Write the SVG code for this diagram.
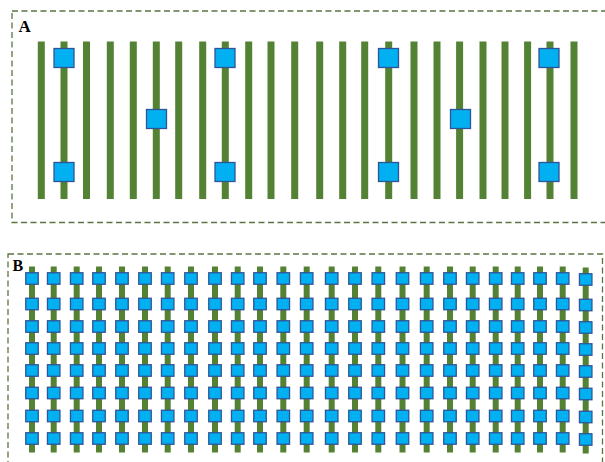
<svg xmlns="http://www.w3.org/2000/svg" xmlns:xlink="http://www.w3.org/1999/xlink" width="605" height="462" viewBox="0 0 605 462">
<style>
.frame{fill:none;stroke:#5b7444;stroke-width:1.3;stroke-dasharray:6 3.5}
.bar{fill:#548235}
.sq{fill:#00B0F0;stroke:#2F5597;stroke-width:1.3}
.lbl{font-family:"Liberation Serif",serif;font-weight:bold;fill:#000}
</style>
<defs>
<rect id="barA" class="bar" x="-3.5" y="41.5" width="7" height="157.5"/>
<rect id="sqA" class="sq" x="-10" y="0" width="20" height="19"/>
<g id="colB">
<rect class="bar" x="-3" y="266.5" width="6" height="186"/>
<rect class="sq" x="-6.25" y="272.75" width="12.5" height="11.5"/>
<rect class="sq" x="-6.25" y="298.25" width="12.5" height="11.5"/>
<rect class="sq" x="-6.25" y="320.75" width="12.5" height="11.5"/>
<rect class="sq" x="-6.25" y="342.75" width="12.5" height="11.5"/>
<rect class="sq" x="-6.25" y="364.75" width="12.5" height="11.5"/>
<rect class="sq" x="-6.25" y="387.25" width="12.5" height="11.5"/>
<rect class="sq" x="-6.25" y="410.25" width="12.5" height="11.5"/>
<rect class="sq" x="-6.25" y="432.75" width="12.5" height="11.5"/>
</g>
</defs>
<rect width="605" height="462" fill="#fff"/>
<g id="panelA">
<rect class="frame" x="12" y="11" width="600" height="211.5"/>
<text class="lbl" x="18.5" y="32" font-size="17">A</text>
<g id="barsA">
<use xlink:href="#barA" x="41.3"/><use xlink:href="#barA" x="64"/><use xlink:href="#barA" x="86.5"/><use xlink:href="#barA" x="110.3"/><use xlink:href="#barA" x="133.3"/><use xlink:href="#barA" x="156.3"/><use xlink:href="#barA" x="178.7"/><use xlink:href="#barA" x="202.7"/><use xlink:href="#barA" x="225.3"/><use xlink:href="#barA" x="248.7"/><use xlink:href="#barA" x="271"/><use xlink:href="#barA" x="294.7"/><use xlink:href="#barA" x="319.7"/><use xlink:href="#barA" x="342.7"/><use xlink:href="#barA" x="364.7"/><use xlink:href="#barA" x="388.7"/><use xlink:href="#barA" x="414"/><use xlink:href="#barA" x="437"/><use xlink:href="#barA" x="459.6"/><use xlink:href="#barA" x="483"/><use xlink:href="#barA" x="505"/><use xlink:href="#barA" x="527.6"/><use xlink:href="#barA" x="550"/><use xlink:href="#barA" x="574"/>
</g>
<g id="squaresA">
<use xlink:href="#sqA" x="64" y="48.5"/><use xlink:href="#sqA" x="64" y="162.5"/>
<use xlink:href="#sqA" x="156.5" y="109.5"/>
<use xlink:href="#sqA" x="225" y="48.5"/><use xlink:href="#sqA" x="225" y="162.5"/>
<use xlink:href="#sqA" x="388.5" y="48.5"/><use xlink:href="#sqA" x="388.5" y="162.5"/>
<use xlink:href="#sqA" x="460.5" y="109.5"/>
<use xlink:href="#sqA" x="549" y="48.5"/><use xlink:href="#sqA" x="549" y="162.5"/>
</g>
</g>
<g id="panelB">
<rect class="frame" x="8" y="254" width="594.5" height="215"/>
<text class="lbl" x="12.5" y="270.5" font-size="16">B</text>
<g id="columnsB">
<use xlink:href="#colB" x="32"/><use xlink:href="#colB" x="53.7"/><use xlink:href="#colB" x="76.7"/><use xlink:href="#colB" x="99"/><use xlink:href="#colB" x="122"/><use xlink:href="#colB" x="145"/><use xlink:href="#colB" x="167.7"/><use xlink:href="#colB" x="191"/><use xlink:href="#colB" x="215"/><use xlink:href="#colB" x="237.7"/><use xlink:href="#colB" x="260"/><use xlink:href="#colB" x="283.3"/><use xlink:href="#colB" x="306.7"/><use xlink:href="#colB" x="331.7"/><use xlink:href="#colB" x="355"/><use xlink:href="#colB" x="378.3"/><use xlink:href="#colB" x="402.5"/><use xlink:href="#colB" x="426.7"/><use xlink:href="#colB" x="450"/><use xlink:href="#colB" x="472.7"/><use xlink:href="#colB" x="495.7"/><use xlink:href="#colB" x="517.7"/><use xlink:href="#colB" x="540"/><use xlink:href="#colB" x="562.7"/><use xlink:href="#colB" x="585.7" y="1"/>
</g>
</g>
</svg>
